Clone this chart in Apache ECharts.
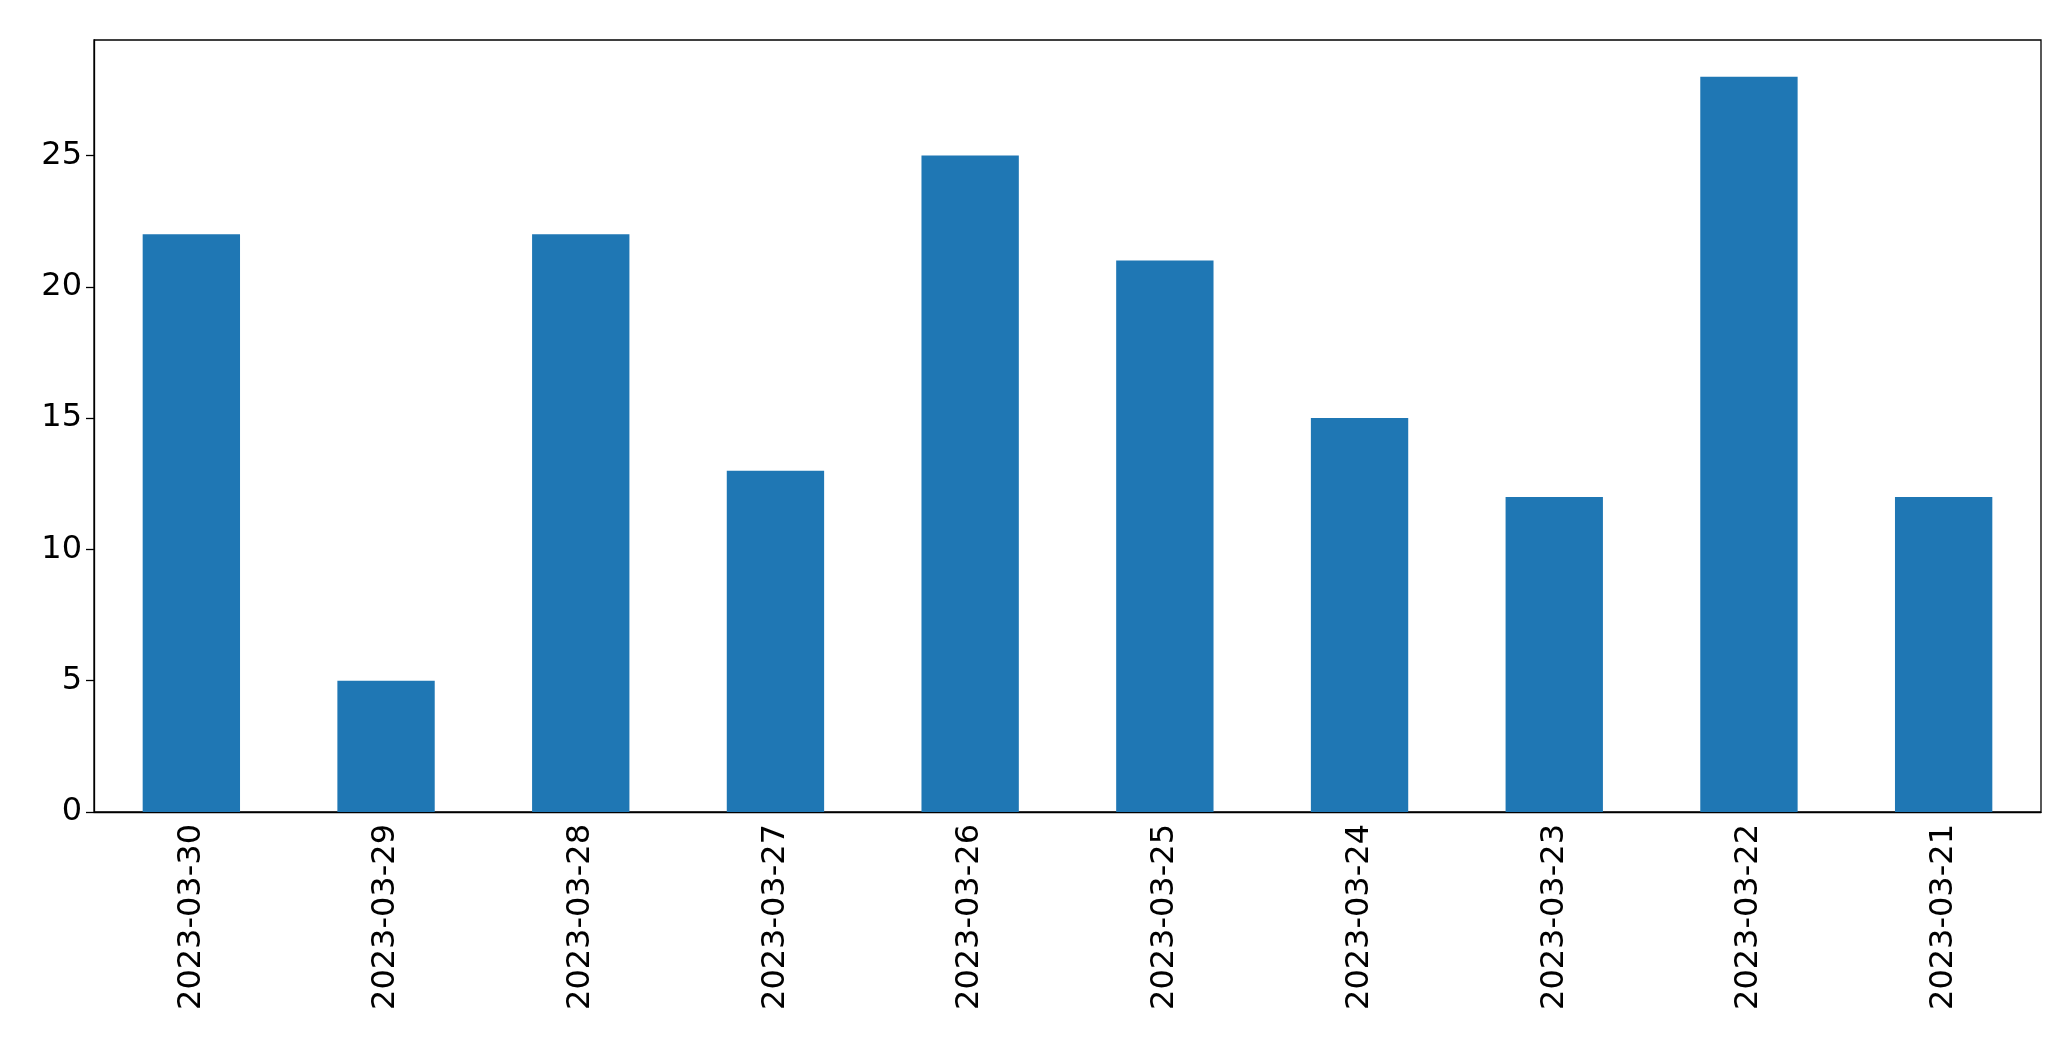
<!DOCTYPE html>
<html><head><meta charset="utf-8">
<script src="https://cdn.jsdelivr.net/npm/echarts@6/dist/echarts.min.js"></script>
<style>html,body{margin:0;padding:0;background:#fff}#c{width:2071px;height:1061px}</style>
</head><body><div id="c"></div>
<script>
const categories = ["2023-03-30","2023-03-29","2023-03-28","2023-03-27","2023-03-26","2023-03-25","2023-03-24","2023-03-23","2023-03-22","2023-03-21"];
const values = [22,5,22,13,25,21,15,12,28,12];
const chart = echarts.init(document.getElementById('c'));
chart.setOption({
  animation:false,
  grid:{left:94,right:30,top:40,bottom:249,show:true,borderColor:'#000',borderWidth:1.3,backgroundColor:'transparent'},
  xAxis:{type:'category',data:categories,
    axisLine:{lineStyle:{color:'#000',width:1.3}},
    axisTick:{alignWithLabel:true,length:8,lineStyle:{color:'#000',width:1.3}},
    axisLabel:{rotate:90,color:'#000',fontSize:32,fontFamily:'DejaVu Sans',margin:12}},
  yAxis:{type:'value',min:0,max:29.4,interval:5,
    axisLine:{show:true,lineStyle:{color:'#000',width:1.3}},
    axisTick:{show:true,length:8,lineStyle:{color:'#000',width:1.3}},
    splitLine:{show:false},
    axisLabel:{color:'#000',fontSize:32,fontFamily:'DejaVu Sans',margin:12,showMaxLabel:false}},
  series:[{type:'bar',data:values,barWidth:'50%',itemStyle:{color:'#1f77b4'}}]
});
</script></body></html>
